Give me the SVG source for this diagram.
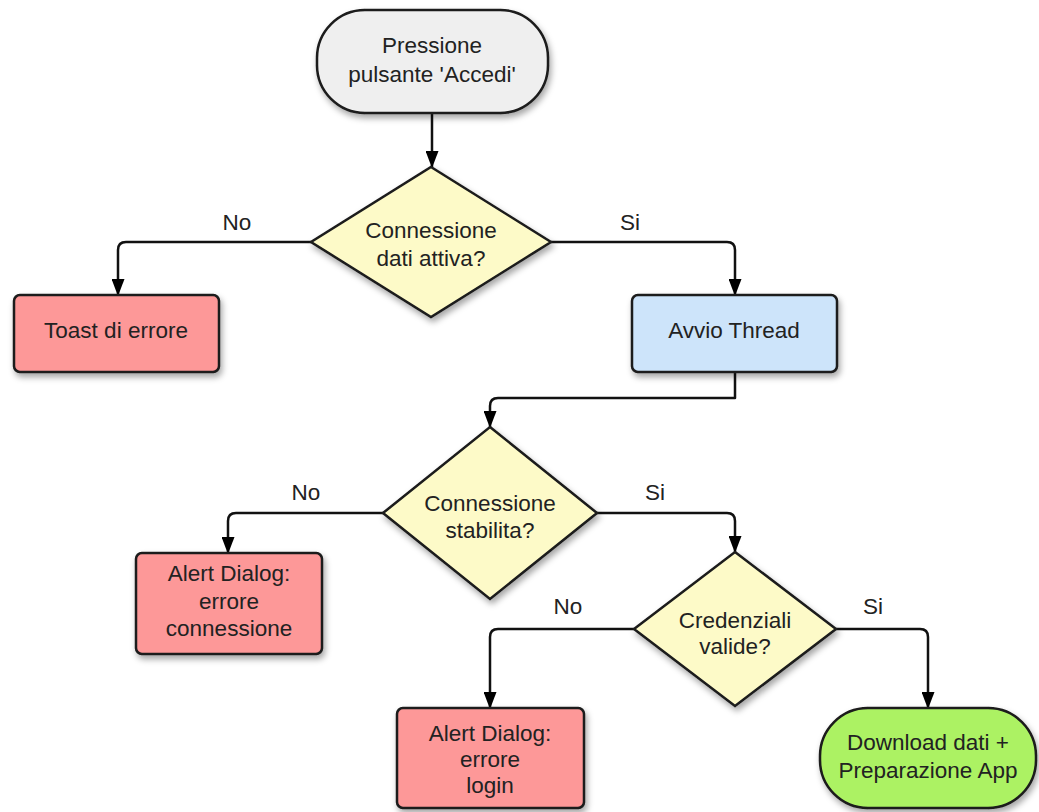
<svg xmlns="http://www.w3.org/2000/svg" width="1039" height="812" viewBox="0 0 1039 812">
<defs>
<filter id="sh" x="-20%" y="-20%" width="140%" height="150%">
<feDropShadow dx="2" dy="4" stdDeviation="3" flood-color="#000" flood-opacity="0.35"/>
</filter>
<marker id="arr" viewBox="0 0 17 13" refX="16" refY="6.5" markerWidth="17" markerHeight="13" markerUnits="userSpaceOnUse" orient="auto">
<path d="M0,0 L17,6.5 L0,13 Z" fill="#000"/>
</marker>
<style>
.n{stroke:#1a1a1a;stroke-width:2.5;filter:url(#sh)}
.t{font-family:"Liberation Sans",Arial,sans-serif;font-size:22.5px;fill:#222;text-anchor:middle}
.c{fill:none;stroke:#111;stroke-width:2.5;stroke-linejoin:round;marker-end:url(#arr)}
.grey{fill:#efefef}.yel{fill:#fdfac8}.red{fill:#fd9898}.blue{fill:#cde4fa}.green{fill:#acf264}
</style>
</defs>
<rect width="1039" height="812" fill="#fff"/>
<g id="connectors">
<path class="c" d="M432,113 V167"/>
<path class="c" d="M311,242 H126 Q118,242 118,250 V295"/>
<path class="c" d="M551,242 H727 Q735,242 735,250 V295"/>
<path class="c" d="M735,372 V398 H498 Q490,398 490,406 V427"/>
<path class="c" d="M383,513 H236 Q228,513 228,521 V553"/>
<path class="c" d="M597,513 H727 Q735,513 735,521 V552"/>
<path class="c" d="M634,629 H498 Q490,629 490,637 V708"/>
<path class="c" d="M836,629 H920 Q928,629 928,637 V708"/>
<text class="t" x="237" y="230">No</text>
<text class="t" x="630" y="230">Si</text>
<text class="t" x="306" y="500">No</text>
<text class="t" x="655" y="500">Si</text>
<text class="t" x="568" y="614">No</text>
<text class="t" x="873" y="614">Si</text>
</g>
<g id="start">
<rect class="n grey" x="317" y="10" width="231" height="103" rx="48" ry="48"/>
<text class="t" x="432" y="53">Pressione</text>
<text class="t" x="432" y="82">pulsante 'Accedi'</text>
</g>
<g id="dec1">
<polygon class="n yel" points="431,167 551,242 431,317 311,242"/>
<text class="t" x="431" y="238">Connessione</text>
<text class="t" x="431" y="266">dati attiva?</text>
</g>
<g id="toast">
<rect class="n red" x="14" y="295" width="205" height="77" rx="6"/>
<text class="t" x="116" y="338">Toast di errore</text>
</g>
<g id="thread">
<rect class="n blue" x="632" y="295" width="205" height="77" rx="6"/>
<text class="t" x="734" y="338">Avvio Thread</text>
</g>
<g id="dec2">
<polygon class="n yel" points="490,427 597,513 490,599 383,513"/>
<text class="t" x="490" y="511">Connessione</text>
<text class="t" x="490" y="538">stabilita?</text>
</g>
<g id="alert1">
<rect class="n red" x="136" y="553" width="186" height="101" rx="6"/>
<text class="t" x="229" y="581">Alert Dialog:</text>
<text class="t" x="229" y="609">errore</text>
<text class="t" x="229" y="636">connessione</text>
</g>
<g id="dec3">
<polygon class="n yel" points="735,552 836,629 735,706 634,629"/>
<text class="t" x="735" y="628">Credenziali</text>
<text class="t" x="735" y="654">valide?</text>
</g>
<g id="alert2">
<rect class="n red" x="397" y="708" width="187" height="100" rx="6"/>
<text class="t" x="490" y="741">Alert Dialog:</text>
<text class="t" x="490" y="767">errore</text>
<text class="t" x="490" y="793">login</text>
</g>
<g id="download">
<rect class="n green" x="820" y="708" width="216" height="100" rx="48" ry="48"/>
<text class="t" x="928" y="750">Download dati +</text>
<text class="t" x="928" y="778">Preparazione App</text>
</g>
</svg>
